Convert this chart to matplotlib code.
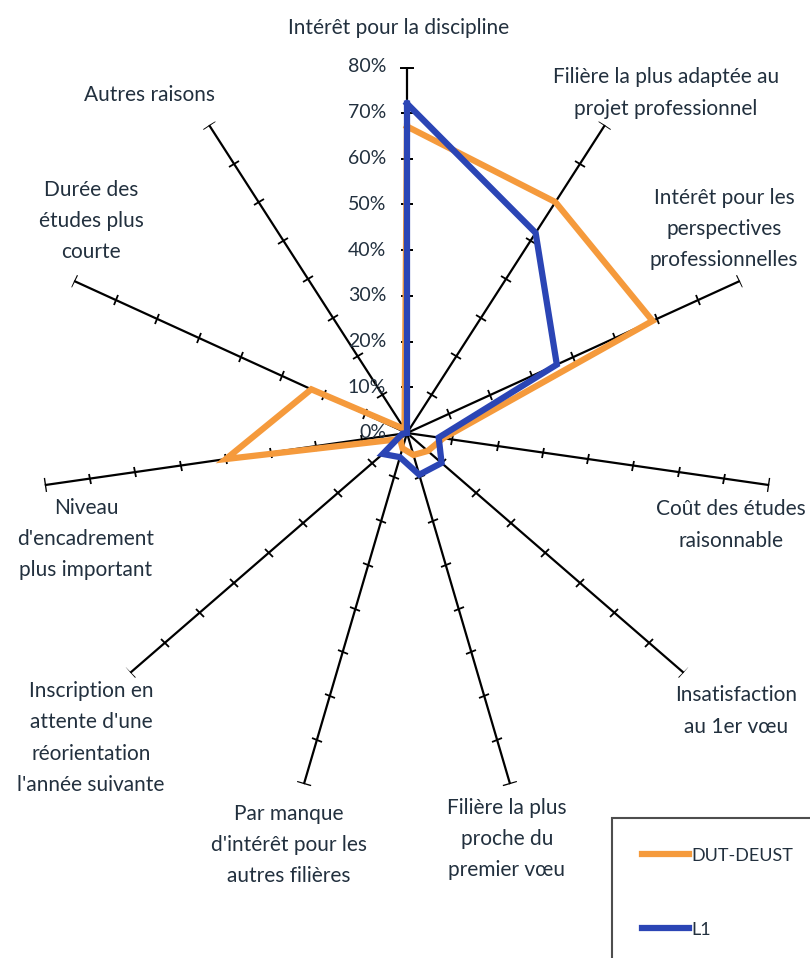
import numpy as np
import matplotlib
matplotlib.use("Agg")
import matplotlib.pyplot as plt
from matplotlib.markers import MarkerStyle
from matplotlib.transforms import Affine2D
from matplotlib.lines import Line2D

plt.rcParams['font.family'] = ['Lato', 'DejaVu Sans']

categories = [
    "Intérêt pour la discipline",
    "Filière la plus adaptée au\nprojet professionnel",
    "Intérêt pour les\nperspectives\nprofessionnelles",
    "Coût des études\nraisonnable",
    "Insatisfaction\nau 1er vœu",
    "Filière la plus\nproche du\npremier vœu",
    "Par manque\nd'intérêt pour les\nautres filières",
    "Inscription en\nattente d'une\nréorientation\nl'année suivante",
    "Niveau\nd'encadrement\nplus important",
    "Durée des\nétudes plus\ncourte",
    "Autres raisons",
]
series_names = ["DUT-DEUST", "L1"]
dut_deust = [67, 60, 59, 8, 6, 5, 3.5, 2, 40, 23, 1]
l1 = [72, 52, 36, 7, 10, 9.5, 5.5, 7, 1, 0, 0]
r_ticks = [0, 10, 20, 30, 40, 50, 60, 70, 80]
r_tick_labels = ["0%", "10%", "20%", "30%", "40%", "50%", "60%", "70%", "80%"]

colors = ["#F59A3C", "#2B45B5"]
text_color = "#22303e"

W, H = 810, 958
fig = plt.figure(figsize=(W / 100, H / 100), dpi=100)
cx, cy, R = 407, 433, 366
ax = fig.add_axes([(cx - R) / W, (H - cy - R) / H, 2 * R / W, 2 * R / H],
                  projection='polar')
ax.set_theta_offset(np.pi / 2)
ax.set_theta_direction(-1)
ax.set_ylim(0, 80)
ax.grid(False)
ax.spines['polar'].set_visible(False)
ax.set_xticks([])
ax.set_yticks([])
ax.patch.set_alpha(0)

n = len(categories)
theta = np.arange(n) * 2 * np.pi / n

# spokes with tick marks
for i, t in enumerate(theta):
    ax.plot([t, t], [0, r_ticks[-1]], color='black', lw=1.6, zorder=2)
    rot = 90 - np.degrees(t)
    m = MarkerStyle('|', transform=Affine2D().rotate_deg(rot))
    ax.plot([t] * (len(r_ticks) - 2), r_ticks[1:-1], linestyle='none',
            marker=m, markersize=8, mec='black', mew=1.3, zorder=2)
    ax.plot([t], [r_ticks[-1]], linestyle='none', marker=m, markersize=10,
            mec='black', mew=1.6, zorder=2)

# series
for vals, col, name in zip([dut_deust, l1], colors, series_names):
    v = list(vals) + [vals[0]]
    tt = list(theta) + [theta[0]]
    ax.plot(tt, v, color=col, lw=4.5, solid_joinstyle='miter', zorder=3, label=name)

# radial labels on top spoke
for r, lab in zip(r_ticks, r_tick_labels):
    ax.annotate(lab, xy=(0, r), xytext=(-15, 0), textcoords='offset points',
                ha='right', va='center', fontsize=14, color=text_color, zorder=4)

# category labels (pixel layout)
label_pos = [(399, 28), (666, 93), (724, 229), (731, 525), (736, 711),
             (507, 839), (289, 845), (91, 738), (86, 539), (91, 221), (150, 95)]
for lab, (x, y) in zip(categories, label_pos):
    fig.text(x / W, 1 - y / H, lab, ha='center', va='center', fontsize=15,
             color=text_color, linespacing=1.7)

handles = [Line2D([], [], color=c, lw=4.5) for c in colors]
leg = fig.legend(handles, series_names, loc='upper left',
                 bbox_to_anchor=(612 / W, 1 - 818 / H), frameon=True,
                 fontsize=13, handlelength=2.6, handletextpad=0.15,
                 labelspacing=3.2, borderpad=1.65, borderaxespad=0)
leg.get_frame().set_edgecolor('#222222')
leg.get_frame().set_linewidth(1.5)
leg.get_frame().set_boxstyle('square', pad=0)
for txt in leg.get_texts():
    txt.set_color(text_color)

fig.savefig("out.png", dpi=100)
